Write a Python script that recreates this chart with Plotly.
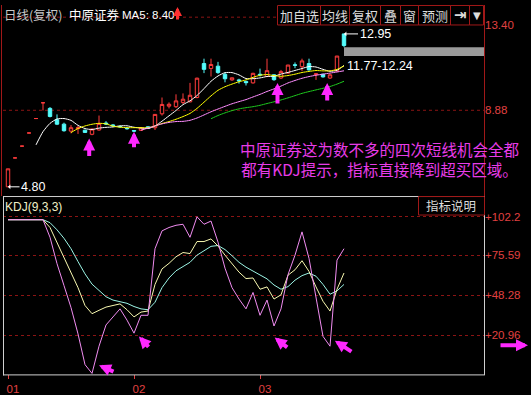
import plotly.graph_objects as go
import pandas as pd

W, H = 531, 395

# ---------------- data ----------------
opens  = [4.80, 6.34, 6.97, 7.67, 8.44, 9.28, 8.98, 8.38, 8.14, 7.77,
          7.90, 7.82, 7.60, 7.83, 8.20, 8.10, 8.02, 7.93, 7.80, 7.81,
          8.00, 7.95, 8.69, 9.10, 9.07, 9.30, 9.33, 9.56, 11.37, 11.11,
          11.23, 10.80, 10.50, 10.50, 10.42, 10.34, 10.80, 10.68, 10.77, 10.60,
          10.86, 11.30, 11.20, 11.37, 10.78, 10.80, 10.60, 10.97, 12.95]
highs  = [5.76, 6.34, 6.97, 7.67, 8.44, 9.28, 9.05, 8.66, 8.22, 8.09,
          8.05, 7.84, 7.90, 8.60, 8.30, 8.15, 8.04, 7.95, 7.82, 7.97,
          8.03, 8.68, 9.56, 9.30, 9.73, 9.78, 10.34, 10.62, 11.63, 11.63,
          11.46, 10.89, 10.62, 10.56, 10.45, 10.88, 11.10, 11.63, 10.80, 11.03,
          11.30, 11.43, 11.63, 11.63, 10.85, 10.82, 10.82, 11.77, 12.95]
lows   = [4.80, 6.34, 6.97, 7.67, 8.44, 8.87, 8.50, 8.09, 7.74, 7.65,
          7.62, 7.68, 7.55, 7.80, 8.10, 8.00, 7.97, 7.85, 7.72, 7.78,
          7.88, 7.83, 8.60, 8.98, 9.00, 9.21, 9.30, 9.52, 10.86, 10.68,
          10.82, 10.37, 10.45, 10.30, 10.20, 10.30, 10.68, 10.65, 10.45, 10.55,
          10.84, 11.12, 10.97, 11.00, 10.50, 10.62, 10.55, 10.95, 12.24]
closes = [5.76, 6.34, 6.97, 7.67, 8.44, 9.28, 8.55, 8.14, 7.79, 7.95,
          7.95, 7.70, 7.88, 8.17, 8.15, 8.05, 8.00, 7.90, 7.77, 7.95,
          7.92, 8.66, 9.19, 9.20, 9.38, 9.47, 9.68, 10.59, 11.06, 11.32,
          10.89, 10.56, 10.61, 10.45, 10.35, 10.85, 10.76, 10.99, 10.51, 10.94,
          11.29, 11.28, 11.51, 11.03, 10.82, 10.66, 10.77, 11.77, 12.33]

k_vals = [100, 100, 100, 100, 100, 100, 94.7, 84.7, 74.7, 64.7,
          53.6, 41.4, 35.8, 38.1, 40.3, 41.4, 42.5, 38.5, 33.6, 36.9,
          37.6, 55.8, 66.4, 70.2, 74.7, 77.6, 76.9, 85.1, 85.1, 86.9,
          82.0, 75.8, 69.6, 64.2, 59.8, 60.2, 52.5, 54.1, 45.8, 48.7,
          62.1, 65.8, 72.0, 64.7, 54.1, 44.3, 37.6, 52.5, 63.6]
d_vals = [100, 100, 100, 100, 100, 100, 98.0, 93.1, 87.3, 80.2,
          71.4, 63.0, 56.0, 51.4, 47.4, 45.1, 44.0, 42.9, 40.7, 39.1,
          38.5, 43.6, 53.6, 60.2, 65.1, 67.8, 70.9, 75.8, 79.1, 81.8,
          82.4, 79.6, 75.4, 70.9, 67.6, 65.1, 62.5, 59.6, 55.4, 52.5,
          54.3, 58.7, 61.8, 63.6, 61.4, 55.8, 49.1, 51.4, 55.8]
j_vals = [100, 100, 100, 100, 100, 100, 88.0, 70.0, 55.0, 40.0,
          22.0, 1.0, -5.0, 13.6, 28.1, 33.6, 39.1, 31.4, 22.5, 34.7,
          34.7, 80.2, 92.4, 94.7, 96.2, 96.9, 88.0, 102.0, 96.9, 99.1,
          84.7, 66.9, 53.6, 45.8, 39.1, 50.3, 34.7, 45.1, 27.4, 39.1,
          62.5, 75.8, 91.7, 73.6, 46.9, 20.3, 13.6, 72.4, 80.2]

month_idx = [0, 18, 36]
month_labels = ['01', '02', '03']
price_ticks = [8.88, 13.40]
kdj_ticks = [20.96, 48.28, 75.59, 102.2]
ma_periods = [5, 10, 20, 30]
ma_colors = ['#ffffff', '#ffff00', '#ff8cff', '#1ec81e']

# signal arrows (upper: x index, price tip, tail px) / lower: (x, value, ax, ay)
up_arrows = [(11.6, 7.37, 19), (18.0, 7.74, 17), (38.5, 10.33, 22), (45.6, 10.33, 19)]
kdj_arrows = [(13.0, 0.6, 16, 7), (18.7, 20.3, 11, 12), (38.1, 19.5, 14, 11), (46.7, 17.4, 18, 12)]

# ---------------- figure ----------------
idx = list(range(len(closes)))
cs = pd.Series(closes)

fig = go.Figure()
fig.add_trace(go.Candlestick(
    x=idx, open=opens, high=highs, low=lows, close=closes,
    increasing=dict(line=dict(color='#ff3c3c', width=1), fillcolor='#000000'),
    decreasing=dict(line=dict(color='#54fcfc', width=1), fillcolor='#54fcfc'),
    whiskerwidth=0, xaxis='x', yaxis='y', hoverinfo='skip'))

for p, c in zip(ma_periods, ma_colors):
    ma = cs.rolling(p).mean()
    fig.add_trace(go.Scatter(x=idx, y=ma, mode='lines',
                             line=dict(color=c, width=1, shape='spline', smoothing=0.6),
                             xaxis='x', yaxis='y', hoverinfo='skip'))

for vals, c in [(d_vals, '#9cf5e6'), (k_vals, '#f8f8b0'), (j_vals, '#f08cf0')]:
    fig.add_trace(go.Scatter(x=idx, y=vals, mode='lines', line=dict(color=c, width=1),
                             xaxis='x', yaxis='y2', hoverinfo='skip'))

def px(x):
    return x / W

def py(y):
    return 1 - y / H

# price mapping: 13.40 at y=21 px, 19.25 px per unit
p_top = 13.40 + (21 - 20) / 19.25
p_bot = 13.40 - (196 - 21) / 19.25
kk = (102.2 - 20.96) / (339 - 217)
k_top = 102.2 + (217 - 196) * kk
k_bot = 20.96 - (379 - 339) * kk
x_lo, x_hi = -5 / 7, 476 / 7

num_font = 'Liberation Sans, Arial, sans-serif'
cjk_font = 'Noto Sans CJK SC, sans-serif'
red = '#e04040'
grid_red = '#8c1414'

fig.update_layout(
    width=W, height=H, margin=dict(l=0, r=0, t=0, b=0),
    paper_bgcolor='#000000', plot_bgcolor='#000000', showlegend=False,
    xaxis=dict(domain=[px(3), px(484)], range=[x_lo, x_hi], anchor='y2',
               showgrid=False, zeroline=False, showline=False,
               rangeslider=dict(visible=False),
               tickvals=month_idx, ticktext=month_labels,
               tickfont=dict(color=red, size=11.5, family=num_font),
               ticks='outside', ticklen=4, tickcolor=red, ticklabelshift=5),
    yaxis=dict(domain=[py(196), py(20)], range=[p_bot, p_top], side='right', anchor='x',
               tickvals=price_ticks, ticktext=['%.2f' % v for v in price_ticks],
               showgrid=False, zeroline=False, showline=False, ticks='',
               tickfont=dict(color=red, size=11.5, family=num_font)),
    yaxis2=dict(domain=[py(379), py(196)], range=[k_bot, k_top], side='right', anchor='x',
                tickvals=kdj_ticks, ticktext=['+' + ('%g' % v if v > 100 else '%.2f' % v) for v in kdj_ticks],
                showgrid=True, gridcolor=grid_red, griddash='dot', gridwidth=1,
                zeroline=False, showline=False, ticks='',
                tickfont=dict(color=red, size=11.5, family=num_font)),
)

shapes = []
def line(x0, y0, x1, y1, color, width=1, dash=None):
    shapes.append(dict(type='line', xref='paper', yref='paper', x0=px(x0), y0=py(y0),
                       x1=px(x1), y1=py(y1), line=dict(color=color, width=width, dash=dash)))

def rect(x0, y0, x1, y1, color, fill=None):
    shapes.append(dict(type='rect', xref='paper', yref='paper', x0=px(x0), y0=py(y0),
                       x1=px(x1), y1=py(y1), line=dict(color=color, width=1),
                       fillcolor=fill if fill else 'rgba(0,0,0,0)'))

# upper grid (dotted) at the 8.88 level and header guide line
shapes.append(dict(type='line', xref='x', yref='y', x0=x_lo, x1=x_hi, y0=price_ticks[0], y1=price_ticks[0],
                   line=dict(color=grid_red, width=1, dash='dot'), layer='below'))
line(3, 12.5, 277, 12.5, grid_red, 1, 'dot')

# panel frames
line(3, 196.5, 484, 196.5, '#d0d0d0')
line(3, 379.5, 484, 379.5, '#d0d0d0')
line(3.5, 196, 3.5, 380, '#d0d0d0')
line(484.5, 196, 484.5, 380, '#d0d0d0')
line(484.5, 0, 484.5, 196, '#a01818')
line(1.5, 0, 1.5, 196, '#a01818')

# gap band
shapes.append(dict(type='rect', xref='x', yref='y', x0=len(closes) - 1, x1=x_hi,
                   y0=highs[-2], y1=lows[-1], line=dict(width=0), fillcolor='#9a9a9a', layer='below'))

# buttons
btn_edges = [277, 320, 349, 380, 400, 418, 450, 469, 483]
btn_text = ['加自选', '均线', '复权', '叠', '窗', '预测', '<b>⇥</b>', '▼']
annotations = []
for i, t in enumerate(btn_text):
    rect(btn_edges[i] + 0.5, 0.5, btn_edges[i + 1] + 0.5, 20.5, '#a01818')
    annotations.append(dict(x=px((btn_edges[i] + btn_edges[i + 1]) / 2 + 0.5), y=py(10.5),
                            xref='paper', yref='paper', showarrow=False, text=t,
                            xanchor='center', yanchor='middle',
                            font=dict(color='#dcdcdc', size=13 if i < 6 else (15 if i == 6 else 10),
                                      family=cjk_font if i < 6 else 'DejaVu Sans')))
rect(418.5, 196.5, 484.5, 215.5, '#a01818')
fig.update_layout(shapes=shapes)

def txt(x, y, t, color, size, family=cjk_font, anchor='left'):
    annotations.append(dict(x=px(x), y=py(y), xref='paper', yref='paper', showarrow=False,
                            text=t, xanchor=anchor, yanchor='middle',
                            font=dict(color=color, size=size, family=family)))

txt(2, 10, '日线(复权)', '#c8c8c8', 12.5)
txt(67, 10, '中原证券', '#ffffff', 12.5)
txt(120, 10, 'MA5: 8.40', '#ffffff', 11.5, num_font)
annotations.append(dict(x=px(177.5), y=py(2), ax=0, ay=14, axref='pixel', ayref='pixel',
                        xref='paper', yref='paper', text='', showarrow=True, arrowhead=2,
                        arrowsize=0.6, arrowwidth=3, arrowcolor='#ff3030', standoff=0))
txt(451, 206, '指标说明', '#dcdcdc', 12.5, anchor='center')
txt(3, 207, 'KDJ(9,3,3)', '#f0f0c8', 12, num_font)
txt(238, 158.5, '中原证券这为数不多的四次短线机会全都<br>都有KDJ提示，指标直接降到超买区域。', '#e83ce8', 15.5)

# price labels with arrows
annotations.append(dict(x=len(closes) - 1, y=highs[-1], xref='x', yref='y', ax=31, ay=0,
                        axref='pixel', ayref='pixel', text='%.2f' % highs[-1], showarrow=True,
                        arrowhead=1, arrowsize=0.8, arrowwidth=1, arrowcolor='#ffffff',
                        font=dict(color='#ffffff', size=12.5, family=num_font)))
annotations.append(dict(x=0, y=lows[0], xref='x', yref='y', ax=25, ay=0,
                        axref='pixel', ayref='pixel', text='%.2f' % lows[0], showarrow=True,
                        arrowhead=1, arrowsize=0.8, arrowwidth=1, arrowcolor='#ffffff',
                        font=dict(color='#ffffff', size=12.5, family=num_font)))
annotations.append(dict(x=len(closes) - 1, y=highs[-2], xref='x', yref='y', showarrow=False,
                        text='%.2f-%.2f' % (highs[-2], lows[-1]), xanchor='left', yanchor='top',
                        xshift=1, yshift=-1, font=dict(color='#ffffff', size=12.5, family=num_font)))

mag = '#ff28ff'
for x, y, ay in up_arrows:
    annotations.append(dict(x=x, y=y, xref='x', yref='y', ax=0, ay=ay, axref='pixel', ayref='pixel',
                            text='', showarrow=True, arrowhead=2, arrowsize=0.6, arrowwidth=4,
                            arrowcolor=mag, standoff=0))
for x, y, ax, ay in kdj_arrows:
    annotations.append(dict(x=x, y=y, xref='x', yref='y2', ax=ax, ay=ay, axref='pixel', ayref='pixel',
                            text='', showarrow=True, arrowhead=2, arrowsize=0.6, arrowwidth=4,
                            arrowcolor=mag, standoff=0))
annotations.append(dict(x=px(528), y=py(349), xref='paper', yref='paper', ax=-29, ay=0,
                        axref='pixel', ayref='pixel', text='', showarrow=True, arrowhead=2,
                        arrowsize=0.6, arrowwidth=4, arrowcolor=mag, standoff=0))

fig.update_layout(annotations=annotations)
fig.write_html('out.html')
